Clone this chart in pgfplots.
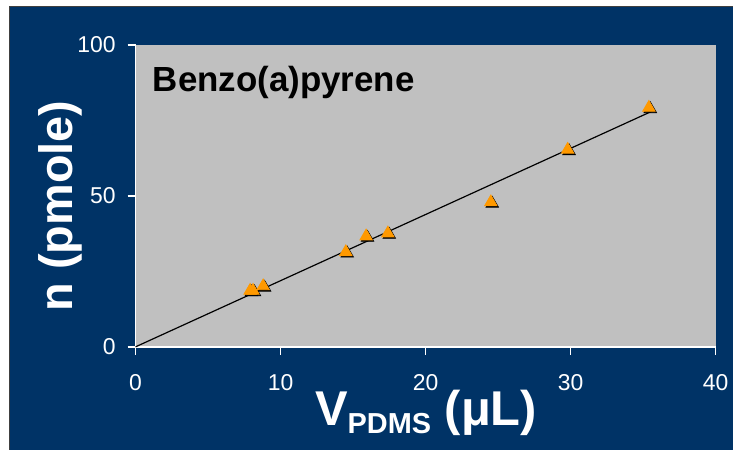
\documentclass[border=0pt]{standalone}
\usepackage{fontspec}
\setmainfont{Liberation Sans}
\usepackage{pgfplots}
\pgfplotsset{compat=1.18}
\definecolor{bgblue}{HTML}{003366}
\definecolor{plotgray}{HTML}{C0C0C0}
\definecolor{mkorange}{HTML}{FF9900}
\begin{document}
\begin{tikzpicture}[x=0.5pt,y=0.5pt]
\fill[white] (0,0) rectangle (735,451);
\fill[bgblue] (10,0) rectangle (735,444);
\draw[black!75, line width=0.6pt] (9.6,0) -- (9.6,444.4) -- (735,444.4);
\begin{axis}[
  at={(68pt,51.5pt)}, anchor=south west,
  scale only axis, width=291pt, height=151.5pt,
  xmin=0, xmax=40, ymin=0, ymax=100,
  xtick={0,10,20,30,40}, ytick={0,50,100},
  axis background/.style={fill=plotgray},
  axis x line*=bottom, axis y line*=left,
  axis line style={white, line width=0.8pt},
  tick style={white, line width=0.8pt},
  tick align=outside, major tick length=4pt,
  tick label style={white, font=\fontsize{11.5}{13}\selectfont},
  xticklabel style={yshift=-6.5pt},
  yticklabel style={xshift=-2.5pt},
  /pgf/number format/assume math mode=true,
  clip=false,
]
\addplot[black, line width=0.6pt] coordinates {(0,0) (35.6,78)};
\addplot[only marks, mark=triangle*, mark size=3.6pt,
  mark options={fill=black, draw=black, xshift=0.7pt, yshift=-0.7pt}]
  coordinates {(7.9,18.6) (8.1,18.6) (8.8,20.1) (14.5,31.4) (15.9,36.6) (17.4,37.6) (24.5,47.9) (29.8,65.3) (35.4,79.2)};
\addplot[only marks, mark=triangle*, mark size=3.6pt,
  mark options={fill=mkorange, draw=mkorange}]
  coordinates {(7.9,18.6) (8.1,18.6) (8.8,20.1) (14.5,31.4) (15.9,36.6) (17.4,37.6) (24.5,47.9) (29.8,65.3) (35.4,79.2)};
\end{axis}
\node[anchor=base west, inner sep=0pt, font=\bfseries\fontsize{17.5}{20}\selectfont] at (153,359.3) {Benzo(a)pyrene};
\node[anchor=base, rotate=90, inner sep=0pt, text=white, font=\bfseries\fontsize{23.5}{28}\selectfont] at (73,244.5) {n (pmole)};
\node[anchor=base, inner sep=0pt, text=white, font=\bfseries\fontsize{24.5}{28}\selectfont] at (427.5,24.3) {V\raisebox{-4pt}{\fontsize{14.5}{16}\selectfont PDMS} (μL)};
\end{tikzpicture}
\end{document}
